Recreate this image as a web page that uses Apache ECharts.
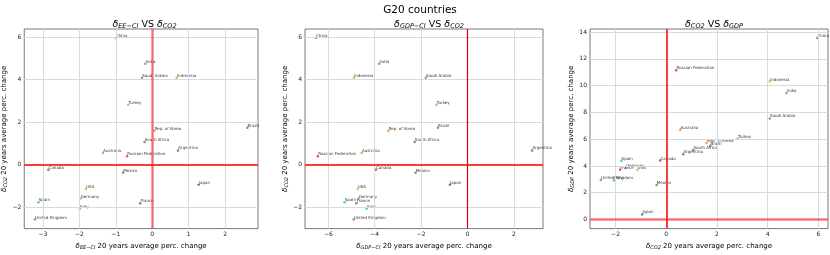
<!DOCTYPE html>
<html><head><meta charset="utf-8">
<script src="https://cdn.jsdelivr.net/npm/echarts@6/dist/echarts.min.js"></script>
<style>html,body{margin:0;padding:0;background:#fff}#c{width:830px;height:255px}</style>
</head><body><div id="c"></div>
<script>
const countries = ['Argentina','Australia','Brazil','Canada','China','France','Germany','India','Indonesia','Italy','Japan','Rep. of Korea','Mexico','Russian Federation','Saudi Arabia','South Africa','Turkey','United Kingdom','USA','Spain'];
const dEECI  = [0.71,-1.35,2.61,-2.85,-1.00,-0.33,-1.97,-0.19,0.67,-1.99,1.27,0.06,-0.80,-0.69,-0.28,-0.21,-0.66,-3.22,-1.82,-3.12];
const dGDPCI = [2.79,-4.56,-1.28,-3.95,-6.54,-4.79,-4.70,-3.81,-4.90,-4.35,-0.76,-3.41,-2.24,-6.45,-1.80,-2.28,-1.34,-4.91,-4.74,-5.30];
const dCO2   = [0.67,0.55,1.73,-0.24,5.95,-1.82,-1.59,4.74,4.08,-2.07,-0.95,1.59,-0.38,0.39,4.08,1.06,2.82,-2.58,-1.14,-1.77];
const dGDP   = [4.88,6.71,5.50,4.40,13.55,3.72,3.84,9.45,10.31,2.92,0.38,5.71,2.57,11.14,7.55,5.19,6.05,2.95,3.70,4.38];
const ticksX1 = [-3,-2,-1,0,1,2];
const ticksX2 = [-6,-4,-2,0,2];
const ticksX3 = [-2,0,2,4,6];
const ticksYCO2 = [-2,0,2,4,6];
const ticksYGDP = [0,2,4,6,8,10,12,14];
const palette = ['#1f77b4','#ff7f0e','#2ca02c','#d62728','#9467bd','#8c564b','#e377c2','#7f7f7f','#bcbd22','#17becf'];

const FONT = 'DejaVu Sans';
function lim(arr){const lo=Math.min(0,...arr),hi=Math.max(0,...arr),m=(hi-lo)*0.05;return [lo-m,hi+m];}
const fmt = v => String(v).replace('-','\u2212');
const rich = {
  d:{fontSize:7,fontStyle:'italic',fontWeight:'normal',fontFamily:FONT,color:'#000'},
  s:{fontSize:5,fontStyle:'italic',fontWeight:'normal',fontFamily:FONT,color:'#000',padding:[3,0,0,0]},
  t:{fontSize:7,fontWeight:'normal',fontFamily:FONT,color:'#000'}
};
const trich = {
  d:{fontSize:9.5,fontStyle:'italic',fontWeight:'normal',fontFamily:FONT,color:'#000'},
  s:{fontSize:6.5,fontStyle:'italic',fontWeight:'normal',fontFamily:FONT,color:'#000',padding:[4,0,0,0]},
  t:{fontSize:9.5,fontWeight:'normal',fontFamily:FONT,color:'#000'}
};
const grids = [
  {left:21,top:29,width:237,height:208},
  {left:305,top:29,width:238,height:208},
  {left:590,top:29,width:238,height:208}
];
const panels = [
  {x:dEECI,y:dCO2,tx:ticksX1,ty:ticksYCO2,xs:'EE\u2212CI',ys:'CO2',vStyle:{color:'rgba(255,0,0,0.5)',width:2.5},hStyle:{color:'#ff0000',width:1.5},title:'{d|δ}{s|EE\u2212CI}{t| VS }{d|δ}{s|CO2}'},
  {x:dGDPCI,y:dCO2,tx:ticksX2,ty:ticksYCO2,xs:'GDP\u2212CI',ys:'CO2',vStyle:{color:'#e00000',width:1.2},hStyle:{color:'#ff0000',width:1.5},title:'{d|δ}{s|GDP\u2212CI}{t| VS }{d|δ}{s|CO2}'},
  {x:dCO2,y:dGDP,tx:ticksX3,ty:ticksYGDP,xs:'CO2',ys:'GDP',vStyle:{color:'#ff0000',width:1.5},hStyle:{color:'rgba(255,0,0,0.5)',width:2.5},title:'{d|δ}{s|CO2}{t| VS }{d|δ}{s|GDP}'}
];
const xAxis=[],yAxis=[],series=[],title=[];
title.push({text:'G20 countries',left:415,top:0,textAlign:'center',textStyle:{fontSize:10.5,fontWeight:'normal',fontFamily:FONT,color:'#000'}});
panels.forEach((p,i)=>{
  const g=grids[i];
  const [x0,x1]=lim(p.x),[y0,y1]=lim(p.y);
  title.push({text:p.title,left:g.left+g.width/2,top:14,textAlign:'center',textStyle:{fontWeight:'normal',rich:trich}});
  xAxis.push({type:'value',gridIndex:i,min:x0,max:x1,
    name:'{d|δ}{s|'+p.xs+'}{t| 20 years average perc. change}',nameLocation:'middle',nameGap:11,
    nameTextStyle:{rich:rich},
    axisLine:{show:false},splitLine:{show:false},
    axisTick:{show:true,length:2,lineStyle:{color:'#444',width:0.8},customValues:p.tx},
    axisLabel:{customValues:p.tx,formatter:fmt,fontSize:6,fontFamily:FONT,color:'#222',margin:3}});
  yAxis.push({type:'value',gridIndex:i,min:y0,max:y1,
    name:'{d|δ}{s|'+p.ys+'}{t| 20 years average perc. change}',nameLocation:'middle',nameGap:i==2?15:14,
    nameTextStyle:{rich:rich},
    axisLine:{show:false},splitLine:{show:false},
    axisTick:{show:true,length:2,lineStyle:{color:'#444',width:0.8},customValues:p.ty},
    axisLabel:{customValues:p.ty,formatter:fmt,fontSize:6,fontFamily:FONT,color:'#222',margin:3}});
  series.push({type:'scatter',xAxisIndex:i,yAxisIndex:i,data:[],silent:true,z:1,
    markLine:{silent:true,symbol:'none',animation:false,label:{show:false},
      lineStyle:{color:'#dadada',width:1,type:'solid'},
      data:p.tx.map(v=>({xAxis:v})).concat(p.ty.map(v=>({yAxis:v})))}});
  series.push({type:'scatter',xAxisIndex:i,yAxisIndex:i,data:[],silent:true,z:2,
    markLine:{silent:true,symbol:'none',animation:false,label:{show:false},
      data:[{xAxis:0,lineStyle:Object.assign({type:'solid'},p.vStyle)},{yAxis:0,lineStyle:Object.assign({type:'solid'},p.hStyle)}]}});
  series.push({type:'scatter',xAxisIndex:i,yAxisIndex:i,z:3,symbolSize:2.5,animation:false,
    data:countries.map((c,k)=>({value:[p.x[k],p.y[k]],name:c,itemStyle:{color:palette[k%10]}})),
    label:{show:true,formatter:'{b}',position:'right',distance:0,offset:[-1,-2],fontSize:4,fontFamily:FONT,color:'#000'}});
});
const chart=echarts.init(document.getElementById('c'),null,{renderer:'canvas'});
chart.setOption({animation:false,backgroundColor:'#fff',title:title,
  grid:grids.map(g=>Object.assign({show:true,borderColor:'#555',borderWidth:0.8,backgroundColor:'transparent'},g)),
  xAxis:xAxis,yAxis:yAxis,series:series});
</script></body></html>
